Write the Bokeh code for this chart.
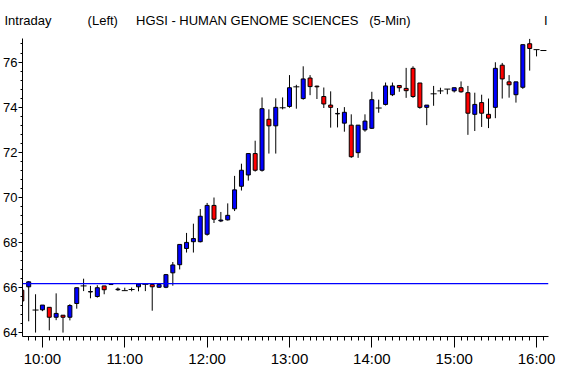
from bokeh.plotting import figure
from bokeh.models import Span, LinearAxis, SingleIntervalTicker, FixedTicker, Range1d, ColumnDataSource
from bokeh.embed import file_html
from bokeh.resources import INLINE

# ---- data (5-minute bars) ----
times = ["09:45", "09:50", "09:55", "10:00", "10:05", "10:10", "10:15", "10:20", "10:25", "10:30",
         "10:35", "10:40", "10:45", "10:50", "10:55", "11:00", "11:05", "11:10", "11:15", "11:20",
         "11:25", "11:30", "11:35", "11:40", "11:45", "11:50", "11:55", "12:00", "12:05", "12:10",
         "12:15", "12:20", "12:25", "12:30", "12:35", "12:40", "12:45", "12:50", "12:55", "13:00",
         "13:05", "13:10", "13:15", "13:20", "13:25", "13:30", "13:35", "13:40", "13:45", "13:50",
         "13:55", "14:00", "14:05", "14:10", "14:15", "14:20", "14:25", "14:30", "14:35", "14:40",
         "14:45", "14:50", "14:55", "15:00", "15:05", "15:10", "15:15", "15:20", "15:25", "15:30",
         "15:35", "15:40", "15:45", "15:50", "15:55", "16:00", "16:05"]

opens = [65.88, 66.03, 65.00, 65.01, 65.12, 64.68, 64.77, 64.68, 65.29, 66.07,
         65.80, 65.60, 66.07, 66.13, 65.90, 65.86, 65.91, 66.03, 66.14, 66.13,
         66.01, 66.01, 66.65, 67.01, 67.73, 68.03, 68.03, 68.36, 69.64, 68.95,
         69.00, 69.49, 70.49, 70.99, 71.94, 71.20, 73.46, 73.17, 73.97, 74.03,
         74.90, 74.38, 75.29, 74.93, 74.47, 74.09, 73.70, 73.29, 73.20, 71.98,
         72.99, 73.06, 73.96, 74.12, 74.55, 74.96, 74.83, 75.72, 75.07, 73.99,
         74.59, 74.72, 74.80, 74.72, 74.86, 74.64, 73.68, 74.20, 73.68, 73.99,
         75.86, 75.12, 74.55, 74.88, 76.81, 76.55, 76.51]

highs = [66.40, 66.28, 65.70, 65.22, 65.12, 65.74, 64.77, 65.26, 65.99, 66.39,
         66.07, 66.10, 66.07, 66.15, 66.00, 65.99, 66.00, 66.17, 66.14, 66.15,
         66.13, 66.60, 67.13, 67.91, 68.42, 68.83, 69.48, 69.75, 69.99, 69.35,
         69.73, 70.95, 71.49, 71.94, 72.51, 74.43, 73.90, 74.39, 74.43, 75.42,
         74.99, 75.81, 75.42, 74.95, 74.87, 74.70, 73.96, 74.00, 73.68, 73.20,
         73.68, 74.68, 74.33, 75.09, 75.09, 74.96, 75.74, 75.81, 75.07, 74.09,
         74.94, 74.86, 74.80, 74.86, 75.14, 74.94, 74.64, 74.55, 74.38, 75.99,
         75.96, 75.42, 75.12, 76.77, 77.03, 76.55, 76.51]

lows = [65.35, 64.50, 64.00, 64.95, 64.10, 64.55, 64.00, 64.54, 65.06, 65.84,
        65.52, 65.55, 65.70, 66.13, 65.85, 65.86, 65.83, 65.83, 65.84, 64.97,
        65.98, 65.97, 66.08, 66.80, 67.55, 67.55, 68.00, 68.30, 68.86, 68.90,
        68.97, 69.39, 70.30, 70.74, 71.14, 71.14, 71.94, 71.94, 73.90, 73.97,
        73.93, 74.33, 74.53, 74.36, 73.96, 73.09, 73.10, 72.91, 71.75, 71.75,
        72.91, 73.03, 73.75, 74.07, 74.49, 74.68, 74.41, 74.41, 73.93, 73.20,
        74.06, 74.58, 74.57, 74.65, 74.64, 72.77, 72.94, 73.12, 73.07, 73.51,
        74.38, 74.42, 74.20, 74.81, 75.62, 76.25, 76.51]

closes = [65.40, 66.25, 65.00, 65.22, 64.68, 64.85, 64.68, 65.20, 65.99, 66.07,
          65.82, 65.99, 65.90, 66.15, 65.93, 65.86, 65.91, 66.15, 66.14, 66.03,
          66.13, 66.57, 67.00, 67.91, 68.00, 68.17, 69.16, 69.64, 69.03, 68.99,
          69.20, 70.33, 71.20, 71.94, 71.20, 73.93, 73.17, 73.99, 73.97, 74.86,
          74.90, 75.25, 74.91, 74.90, 74.14, 73.99, 73.72, 73.77, 71.80, 73.20,
          73.38, 74.33, 73.96, 74.94, 74.94, 74.86, 74.73, 74.47, 73.99, 74.09,
          74.59, 74.72, 74.80, 74.86, 74.68, 73.73, 74.12, 73.73, 73.51, 75.72,
          75.25, 74.99, 75.12, 76.77, 76.60, 76.55, 76.51]

reference_level = 66.17
hour_labels = ["10:00", "11:00", "12:00", "13:00", "14:00", "15:00", "16:00"]

title_parts = ["Intraday", "(Left)", "HGSI - HUMAN GENOME SCIENCES", "(5-Min)", "I"]
title_gaps = [10, 5, 3, 37]  # non-breaking spaces between the parts

# ---- derived ----
def to_min(s):
    h, m = s.split(":")
    return int(h) * 60 + int(m)

t = [to_min(s) for s in times]
UP, DOWN = "#0000FF", "#FF0000"

bars = dict(t=[], top=[], bottom=[], color=[])
dojis = dict(t=[], y=[])
for ti, o, c in zip(t, opens, closes):
    if o == c:
        dojis["t"].append(ti); dojis["y"].append(o)
    else:
        bars["t"].append(ti)
        bars["top"].append(max(o, c)); bars["bottom"].append(min(o, c))
        bars["color"].append(UP if c > o else DOWN)

FONT = "'Liberation Sans', Arial, sans-serif"

W, H = 556, 369
B_LEFT, B_RIGHT, B_TOP, B_BOTTOM = 20, 8, 37, 31
PX_PER_MIN = 496 / 360
x0 = 600 - 20 / PX_PER_MIN
x1 = x0 + (W - B_LEFT - B_RIGHT) / PX_PER_MIN
y0 = 64 - 4 / 23
y1 = y0 + 304 / 23

title_text = title_parts[0]
for gap, part in zip(title_gaps, title_parts[1:]):
    title_text += "\u00a0" * gap + part

p = figure(width=W, height=H, output_backend="svg", toolbar_location=None,
           x_range=Range1d(x0, x1), y_range=Range1d(y0, y1),
           min_border_left=B_LEFT, min_border_right=B_RIGHT,
           min_border_top=B_TOP, min_border_bottom=B_BOTTOM,
           title=title_text)
p.title.text_font = FONT
p.title.text_font_size = "13px"
p.title.text_font_style = "normal"
p.title.text_color = "black"
p.title.align = "left"
p.title.offset = -18
p.title.standoff = 21

p.outline_line_color = None
p.xgrid.visible = False
p.ygrid.visible = False
p.background_fill_color = "white"
p.border_fill_color = "white"

# wicks
p.segment(x0=t, y0=lows, x1=t, y1=highs, line_color="black", line_width=1)
# bodies
p.vbar(x="t", top="top", bottom="bottom", width=2.9, fill_color="color",
       line_color="black", line_width=1, source=ColumnDataSource(bars))
# dojis
p.dash(x="t", y="y", size=6, line_color="black", line_width=1, source=ColumnDataSource(dojis))

p.add_layout(Span(location=reference_level, dimension="width", line_color="#0000FF", line_width=1.2))

# x axis
xa = p.xaxis[0]
xa.ticker = SingleIntervalTicker(interval=60, num_minor_ticks=12)
xa.major_label_overrides = {600 + 60 * i: lab for i, lab in enumerate(hour_labels)}
xa.major_tick_out = 11
xa.major_tick_in = 0
xa.minor_tick_out = 4
xa.minor_tick_in = 0
xa.major_label_standoff = 2
xa.major_label_text_font = FONT
xa.major_label_text_font_size = "15px"
xa.major_label_text_color = "black"
xa.axis_line_color = "black"
xa.major_tick_line_color = "black"
xa.minor_tick_line_color = "black"

mid = LinearAxis(fixed_location=y0,
                 ticker=FixedTicker(ticks=[m for m in range(585, 967, 15) if m % 60 != 0]),
                 major_tick_out=7, major_tick_in=0, minor_tick_out=0, minor_tick_in=0,
                 axis_line_color=None, major_label_text_color=None,
                 major_tick_line_color="black")
p.add_layout(mid, "below")

# y axis
ya = p.yaxis[0]
ya.ticker = SingleIntervalTicker(interval=2, num_minor_ticks=5)
ya.major_tick_out = 4
ya.major_tick_in = 0
ya.minor_tick_out = 2
ya.minor_tick_in = 0
ya.major_label_standoff = 1
ya.major_label_text_font = FONT
ya.major_label_text_font_size = "13px"
ya.major_label_text_color = "black"
ya.axis_line_color = "black"
ya.major_tick_line_color = "black"
ya.minor_tick_line_color = "black"

open("out.html", "w").write(file_html(p, INLINE))
